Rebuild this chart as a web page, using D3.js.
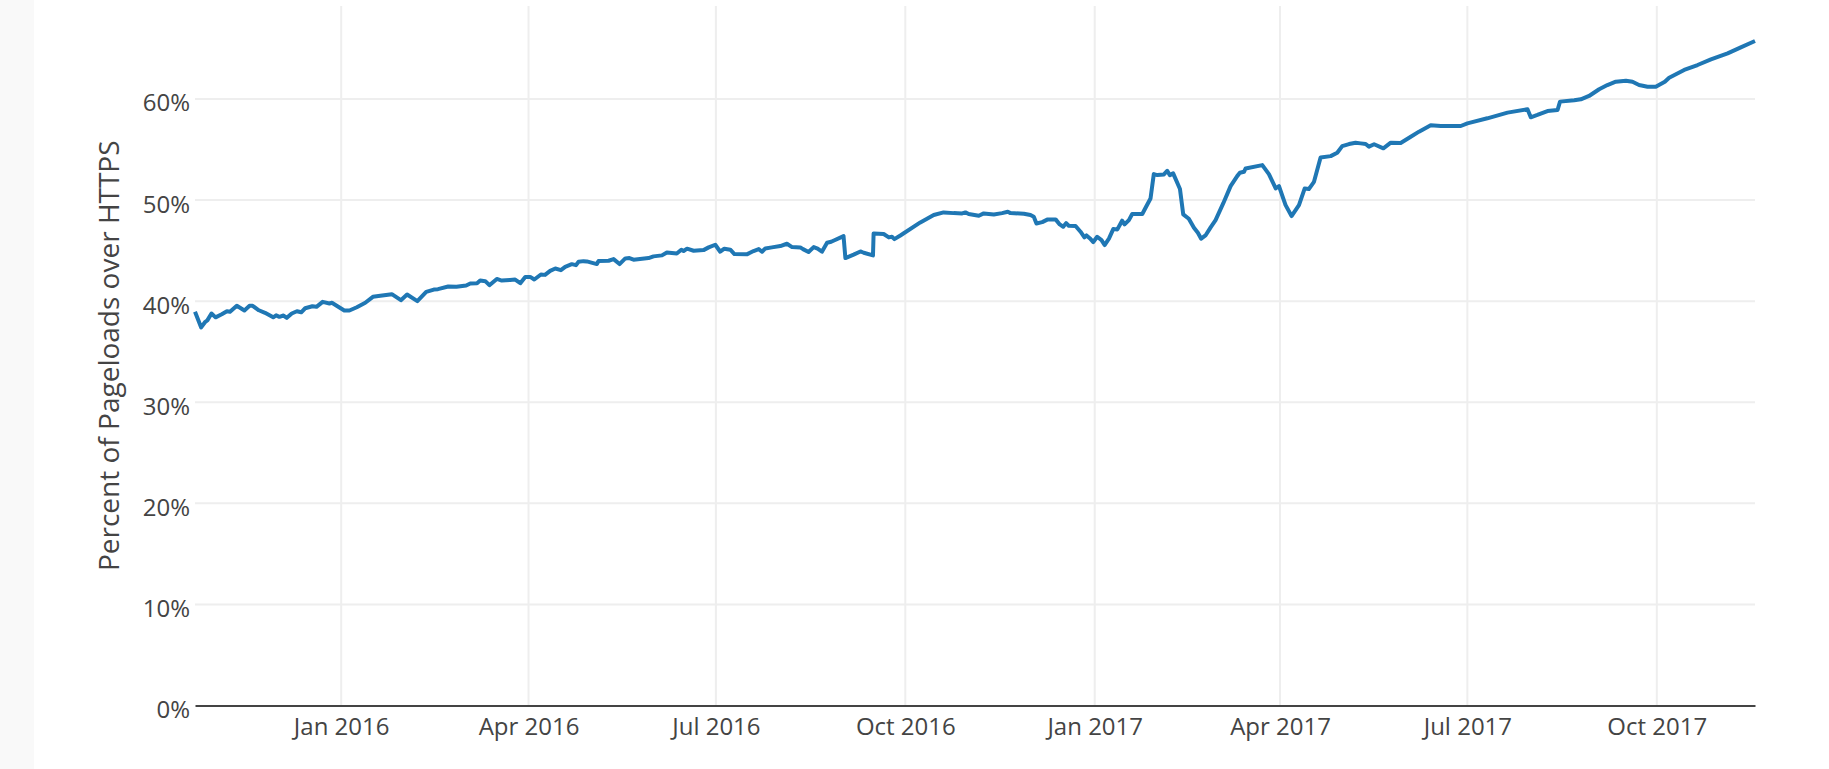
<!DOCTYPE html>
<html>
<head>
<meta charset="utf-8">
<title>Percent of Pageloads over HTTPS</title>
<script src="https://cdn.jsdelivr.net/npm/d3@7"></script>
<style>
    body { margin: 0; background: #fff; }
    #chart { width: 1829px; height: 769px; }
</style>
</head>
<body>
<div id="chart"></div>
<script>
// x values are days counted from 1 Jan 2016
var dayOffsets = [
    -71, -68, -66, -65, -63, -61, -58, -55.5, -54, -50.7, -47, -44.5, -43, -40, -37, -33, -31.6, -30, -28, -26.4,
    -24, -21.5, -19.4, -17.5, -14, -12, -9, -5.7, -4.5, -1.8, 1.5, 4, 7.6, 11.7, 15.4, 19, 24.6, 29, 32, 37,
    41.3, 45, 47, 52, 56, 60.7, 62.7, 66, 67.5, 70, 72, 75.6, 78, 82, 84.5, 87, 89.4, 91.8, 93.8, 97,
    99, 101.5, 104, 106.7, 108.8, 112, 114, 115.3, 117.7, 119.3, 124.2, 125, 129.9, 132.3, 135.2, 138, 140, 142, 149.3, 151.7,
    155.8, 158.2, 163, 165.2, 166.3, 168, 171.2, 176, 178.5, 181.7, 184.1, 186.1, 189, 191, 197, 200.3, 202.8, 204.4, 206, 209.2,
    213.3, 216.5, 219, 223, 224.3, 227, 229.5, 231.4, 233.5, 236, 238, 244, 244.9, 248.9, 252.2, 253.8, 258.3, 258.6, 263.5, 266,
    267.5, 268.7, 271.6, 281.3, 287.8, 292.6, 297.5, 301.6, 303.2, 304.8, 309.7, 312.1, 317, 321, 323.8, 325.1, 331.6, 334.8, 336.4, 337.7,
    340.5, 343.2, 347, 349, 350.7, 352.1, 353.4, 356.7, 359.1, 361, 362, 364, 365.3, 367.2, 369.3, 370.8, 372.9, 375, 377, 379.3,
    380.5, 382.6, 384.2, 389.1, 390.7, 393.1, 394.7, 396.4, 399.6, 401.2, 402.5, 404.1, 407.4, 409, 411.7, 414.2, 416.1, 417.7, 419.8, 422.3,
    424.7, 428.4, 432, 435.2, 436.5, 438.5, 439.3, 447.4, 450.6, 453.9, 455.5, 458.7, 461.6, 465.2, 468, 470, 472.5, 475.7, 480.6, 483.8,
    486.2, 489.5, 492.7, 495.2, 497.6, 499.2, 501.7, 506.2, 509.8, 514.6, 519.5, 523.5, 529.2, 534.1, 543.8, 547, 556.7, 566.5, 576.2, 577.8,
    581, 585.9, 590.8, 592, 598.9, 602.1, 606.1, 611, 615, 619.1, 624, 627.2, 630.4, 634.5, 638.5, 642.9, 645, 652.3, 658.8, 665.3,
    673.4, 679.8, 686.7
];

var percentHttps = [
    38.95, 37.4, 37.96, 38.1, 38.78, 38.4, 38.7, 39.0, 38.95, 39.54, 39.08, 39.54, 39.54, 39.1, 38.85, 38.4, 38.6, 38.45, 38.58, 38.35,
    38.78, 39.0, 38.9, 39.3, 39.5, 39.44, 39.93, 39.77, 39.84, 39.5, 39.08, 39.08, 39.4, 39.84, 40.43, 40.53, 40.69, 40.1, 40.66, 40.0,
    40.92, 41.15, 41.19, 41.45, 41.42, 41.55, 41.75, 41.78, 42.04, 41.98, 41.58, 42.2, 42.04, 42.1, 42.14, 41.78, 42.4, 42.4, 42.14, 42.64,
    42.6, 43.0, 43.23, 43.07, 43.4, 43.66, 43.56, 43.89, 43.96, 43.93, 43.67, 43.97, 44.0, 44.16, 43.67, 44.23, 44.26, 44.1, 44.26, 44.43,
    44.53, 44.82, 44.72, 45.09, 44.96, 45.19, 44.99, 45.05, 45.32, 45.58, 44.89, 45.19, 45.09, 44.66, 44.63, 44.96, 45.15, 44.89, 45.22, 45.32,
    45.45, 45.68, 45.35, 45.32, 45.15, 44.86, 45.35, 45.19, 44.89, 45.78, 45.88, 46.44, 44.26, 44.6, 44.92, 44.79, 44.53, 46.7, 46.64, 46.31,
    46.37, 46.14, 46.5, 47.79, 48.52, 48.78, 48.71, 48.68, 48.78, 48.62, 48.45, 48.68, 48.58, 48.71, 48.85, 48.71, 48.65, 48.52, 48.35, 47.69,
    47.82, 48.09, 48.09, 47.59, 47.36, 47.72, 47.46, 47.43, 46.87, 46.31, 46.5, 46.14, 45.85, 46.37, 46.04, 45.55, 46.18, 47.13, 47.1, 47.96,
    47.59, 48.02, 48.62, 48.62, 49.24, 50.16, 52.57, 52.47, 52.54, 52.9, 52.47, 52.64, 51.09, 48.58, 48.15, 47.26, 46.77, 46.18, 46.5, 47.3,
    48.02, 49.67, 51.38, 52.37, 52.7, 52.8, 53.13, 53.46, 52.57, 51.15, 51.38, 49.5, 48.42, 49.5, 51.15, 51.09, 51.81, 54.22, 54.35, 54.68,
    55.34, 55.54, 55.67, 55.61, 55.55, 55.29, 55.52, 55.12, 55.68, 55.65, 56.27, 56.77, 57.4, 57.33, 57.33, 57.59, 58.09, 58.65, 58.98, 58.19,
    58.42, 58.81, 58.91, 59.74, 59.87, 59.97, 60.3, 60.96, 61.38, 61.71, 61.81, 61.71, 61.38, 61.22, 61.22, 61.71, 62.11, 62.87, 63.36, 63.92,
    64.52, 65.11, 65.74
];

var monthTicks = ["2016-01-01", "2016-04-01", "2016-07-01", "2016-10-01", "2017-01-01", "2017-04-01", "2017-07-01", "2017-10-01"];
var monthLabels = ["Jan 2016", "Apr 2016", "Jul 2016", "Oct 2016", "Jan 2017", "Apr 2017", "Jul 2017", "Oct 2017"];
var percentTicks = [0, 10, 20, 30, 40, 50, 60];

var HttpsChart;
(function (HttpsChart) {
    var Chart = (function () {
        function Chart(selector) {
            this.svg = d3.select(selector).append("svg")
                .attr("width", Chart.width)
                .attr("height", Chart.height)
                .style("font-family", "'Open Sans', sans-serif");
            this.buildScales();
            this.drawBackground();
            this.drawGrid();
            this.drawLine();
            this.drawAxes();
        }

        Chart.toDate = function (offset) {
            return new Date(Chart.baseDate.getTime() + offset * 86400000);
        };

        Chart.prototype.buildScales = function () {
            this.x = d3.scaleTime()
                .domain([Chart.toDate(dayOffsets[0]), Chart.toDate(dayOffsets[dayOffsets.length - 1])])
                .range([Chart.left, Chart.right]);
            this.y = d3.scaleLinear().domain([0, 69.2]).range([Chart.bottom, Chart.top]);
            this.ticks = monthTicks.map(function (s) {
                return d3.timeParse("%Y-%m-%d")(s);
            });
        };

        Chart.prototype.drawBackground = function () {
            this.svg.append("rect").attr("width", Chart.width).attr("height", Chart.height).attr("fill", "#fff");
            this.svg.append("rect").attr("width", 34).attr("height", Chart.height).attr("fill", "#f9f9f9");
        };

        Chart.prototype.drawGrid = function () {
            var _this = this;
            var grid = this.svg.append("g").attr("stroke", "#eee").attr("stroke-width", 2);
            grid.selectAll(".vgrid").data(this.ticks).enter().append("line")
                .attr("x1", function (d) { return _this.x(d); })
                .attr("x2", function (d) { return _this.x(d); })
                .attr("y1", Chart.top)
                .attr("y2", Chart.bottom);
            grid.selectAll(".hgrid").data(percentTicks.slice(1)).enter().append("line")
                .attr("x1", Chart.left)
                .attr("x2", Chart.right)
                .attr("y1", function (d) { return _this.y(d); })
                .attr("y2", function (d) { return _this.y(d); });
        };

        Chart.prototype.drawLine = function () {
            var _this = this;
            var points = dayOffsets.map(function (d, i) {
                return [Chart.toDate(d), percentHttps[i]];
            });
            var line = d3.line()
                .x(function (p) { return _this.x(p[0]); })
                .y(function (p) { return _this.y(p[1]); });
            this.svg.append("path").datum(points)
                .attr("d", line)
                .attr("fill", "none")
                .attr("stroke", "#1f77b4")
                .attr("stroke-width", 4)
                .attr("stroke-linejoin", "round");
        };

        Chart.prototype.drawAxes = function () {
            var xAxis = d3.axisBottom(this.x)
                .tickValues(this.ticks)
                .tickFormat(function (d, i) { return monthLabels[i]; })
                .tickSize(0);
            var gx = this.svg.append("g").attr("transform", "translate(0," + Chart.bottom + ")").call(xAxis);
            gx.select(".domain").attr("stroke", "#444").attr("stroke-width", 2);
            gx.selectAll("text").attr("y", 29).attr("dy", 0)
                .attr("fill", "#444").style("font-size", "24px").style("font-family", "'Open Sans', sans-serif");

            var yAxis = d3.axisLeft(this.y)
                .tickValues(percentTicks)
                .tickFormat(function (d) { return d + "%"; })
                .tickSize(0)
                .tickPadding(5);
            var gy = this.svg.append("g").attr("transform", "translate(" + Chart.left + ",0)").call(yAxis);
            gy.select(".domain").remove();
            gy.selectAll("text").attr("dy", "0.5em")
                .attr("fill", "#444").style("font-size", "24px").style("font-family", "'Open Sans', sans-serif");

            this.svg.append("text")
                .attr("transform", "translate(119," + ((Chart.top + Chart.bottom) / 2) + ") rotate(-90)")
                .attr("text-anchor", "middle")
                .attr("fill", "#444")
                .style("font-size", "28px")
                .text("Percent of Pageloads over HTTPS");
        };

        Chart.width = 1829;
        Chart.height = 769;
        Chart.left = 195;
        Chart.right = 1755;
        Chart.top = 6;
        Chart.bottom = 705.5;
        Chart.baseDate = new Date(2016, 0, 1);
        return Chart;
    })();
    HttpsChart.Chart = Chart;
})(HttpsChart || (HttpsChart = {}));

window.onload = function () {
    var chart = new HttpsChart.Chart("#chart");
};
</script>
</body>
</html>
